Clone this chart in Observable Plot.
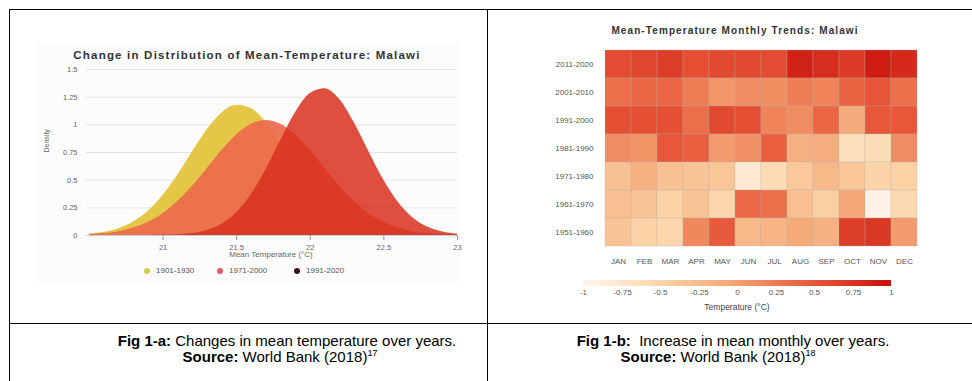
<!DOCTYPE html>
<html><head><meta charset="utf-8">
<script src="https://cdn.jsdelivr.net/npm/d3@7"></script>
<script src="https://cdn.jsdelivr.net/npm/@observablehq/plot@0.6"></script>
<style>
html,body{margin:0;padding:0;background:#fff;}
body{width:972px;height:381px;position:relative;overflow:hidden;font-family:"Liberation Sans",Arial,sans-serif;}
.ln{position:absolute;background:#000;}
.txt{position:absolute;white-space:pre;line-height:1;}
.c{transform:translateX(-50%);text-align:center;}
.cap{font-size:15px;color:#000;}
.dot{position:absolute;width:6px;height:6px;border-radius:3px;}
</style></head><body>
<script>
// ---------- Fig 1-a data ----------
const periods = ["1901-1930", "1971-2000", "1991-2020"];
const temps = [20.5,20.6,20.7,20.8,20.9,21.0,21.1,21.2,21.3,21.4,21.5,21.6,21.7,21.8,21.9,22.0,22.1,22.2,22.3,22.4,22.5,22.6,22.7,22.8,22.9,23.0];
const density1901 = [0.012,0.029,0.062,0.122,0.219,0.362,0.545,0.754,0.955,1.108,1.178,1.147,1.024,0.837,0.627,0.431,0.271,0.156,0.082,0.040,0.018,0.007,0.003,0.001,0,0];
const density1971 = [0.008,0.017,0.035,0.067,0.119,0.197,0.307,0.445,0.604,0.767,0.908,1.005,1.04,1.005,0.908,0.767,0.604,0.445,0.307,0.197,0.119,0.067,0.035,0.017,0.008,0.003];
const density1991 = [0,0,0,0,0.001,0.002,0.006,0.018,0.045,0.102,0.205,0.370,0.596,0.860,1.111,1.284,1.327,1.228,1.016,0.753,0.499,0.296,0.157,0.075,0.032,0.012];
const xTicks = [21, 21.5, 22, 22.5, 23];
const yTicks = [0, 0.25, 0.5, 0.75, 1, 1.25, 1.5];
const fillColors = ["#e3c43c", "#ec6a4c", "#d8301f"];
const legendColors = ["#cdd046", "#e0566a", "#3a1616"];

// ---------- Fig 1-b data ----------
const months = ["JAN","FEB","MAR","APR","MAY","JUN","JUL","AUG","SEP","OCT","NOV","DEC"];
const decades = ["2011-2020","2001-2010","1991-2000","1981-1990","1971-1980","1961-1970","1951-1960"];
const row2011 = [0.58,0.63,0.68,0.55,0.6,0.6,0.58,0.88,0.8,0.7,0.92,0.83];
const row2001 = [0.35,0.4,0.4,0.25,0.08,0.15,0.13,0.25,0.2,0.42,0.52,0.35];
const row1991 = [0.55,0.55,0.55,0.35,0.6,0.55,0.2,0.15,0.4,-0.1,0.5,0.5];
const row1981 = [0.15,0.1,0.5,0.45,0.05,0.12,0.45,-0.15,-0.12,-0.65,-0.6,0.15];
const row1971 = [-0.3,-0.15,-0.3,-0.32,-0.35,-0.8,-0.6,-0.38,-0.22,-0.35,-0.5,-0.48];
const row1961 = [-0.28,-0.32,-0.48,-0.32,-0.52,0.38,0.35,-0.28,-0.45,-0.05,-0.95,-0.55];
const row1951 = [-0.32,-0.48,-0.52,0.18,0.48,-0.22,-0.18,-0.08,-0.15,0.68,0.72,0.05];
const rowValues = [row2011,row2001,row1991,row1981,row1971,row1961,row1951];
const colorTicks = [-1,-0.75,-0.5,-0.25,0,0.25,0.5,0.75,1];
const colorDomain = [-1,-0.5,0,0.5,1];
const colorRange = ["#fff6ec","#fbd5a9","#f4a271","#e8573a","#c9110b"];

// ---------- helpers ----------
function add(tag, cls, css, text){
  const el = document.createElement(tag);
  if (cls) el.className = cls;
  Object.assign(el.style, css);
  if (text != null) el.textContent = text;
  document.body.appendChild(el);
  return el;
}
const fmt = d => String(d);
// table borders
add("div","ln",{left:"9px",top:"9px",width:"963px",height:"1px"});
add("div","ln",{left:"9px",top:"9px",width:"1px",height:"372px"});
add("div","ln",{left:"487px",top:"9px",width:"1px",height:"372px"});
add("div","ln",{left:"9px",top:"323px",width:"963px",height:"1px"});

// ---------- left chart ----------
add("div",null,{position:"absolute",left:"37px",top:"43px",width:"423px",height:"240px",background:"#fcfcfc"});
const rows = (vals) => temps.map((t,i) => ({t, d: vals[i]}));
const left = Plot.plot({
  width: 440, height: 250,
  marginLeft: 56, marginRight: 13, marginTop: 29, marginBottom: 55,
  style: {fontFamily: "'Liberation Sans', Arial, sans-serif", fontSize: "7.5px", color: "#666", background: "transparent"},
  x: {domain: [20.48, 23]},
  y: {domain: [0, 1.5]},
  marks: [
    Plot.gridY(yTicks, {stroke: "#e4e4e4", strokeOpacity: 1}),
    Plot.areaY(rows(density1901), {x: "t", y: "d", fill: fillColors[0], fillOpacity: 0.95, curve: "monotone-x"}),
    Plot.areaY(rows(density1971), {x: "t", y: "d", fill: fillColors[1], fillOpacity: 0.92, curve: "monotone-x"}),
    Plot.areaY(rows(density1991), {x: "t", y: "d", fill: fillColors[2], fillOpacity: 0.85, curve: "monotone-x"}),
    Plot.ruleY([0], {stroke: "#c8cfdc"}),
    Plot.axisX(xTicks, {tickSize: 5, tickPadding: 4, label: null, stroke: "#999", tickFormat: fmt}),
    Plot.axisY(yTicks, {tickSize: 0, tickPadding: 9, label: null, tickFormat: fmt}),
    Plot.text(["Density"], {frameAnchor: "left", dx: -40, rotate: -90, fontSize: 7, fill: "#666"})
  ]
});
left.style.position = "absolute"; left.style.left = "30px"; left.style.top = "40px";
document.body.appendChild(left);
add("div","txt c",{left:"247px",top:"50px",fontSize:"11.5px",fontWeight:"bold",color:"#333",letterSpacing:"1.2px"},"Change in Distribution of Mean-Temperature: Malawi");
add("div","txt c",{left:"271px",top:"251px",fontSize:"8px",color:"#666"},"Mean Temperature (°C)");
const legX = [147, 220, 297];
periods.forEach((p,i) => {
  add("div","dot",{left:(legX[i]-3)+"px",top:"268px",background:legendColors[i]});
  add("div","txt",{left:(legX[i]+9)+"px",top:"267px",fontSize:"8px",color:"#555"},p);
});

// ---------- right chart ----------
const cells = [];
decades.forEach((dec,r) => months.forEach((m,c) => cells.push({month: m, decade: dec, value: rowValues[r][c]})));
const heat = Plot.plot({
  width: 440, height: 240,
  marginLeft: 103, marginRight: 21, marginTop: 8, marginBottom: 33,
  style: {fontFamily: "'Liberation Sans', Arial, sans-serif", fontSize: "8px", color: "#555", background: "transparent"},
  x: {type: "band", domain: months, padding: 0},
  y: {type: "band", domain: decades, padding: 0},
  color: {type: "linear", domain: colorDomain, range: colorRange},
  marks: [
    Plot.cell(cells, {x: "month", y: "decade", fill: "value", stroke: "#b9aea6", strokeWidth: 0.5, strokeOpacity: 0.6}),
    Plot.axisX({anchor: "bottom", tickSize: 0, tickPadding: 11, label: null}),
    Plot.axisY({tickSize: 0, tickPadding: 10, label: null})
  ]
});
heat.style.position = "absolute"; heat.style.left = "500px"; heat.style.top = "40px";
document.body.appendChild(heat);
add("div","txt c",{left:"735px",top:"26px",fontSize:"10px",fontWeight:"bold",color:"#333",letterSpacing:"1.1px"},"Mean-Temperature Monthly Trends: Malawi");

const ramp = heat.legend("color", {
  width: 328, height: 22, marginLeft: 10, marginRight: 10, marginTop: 0, marginBottom: 16,
  ticks: colorTicks, tickSize: 0, tickFormat: fmt, label: null,
  style: {fontFamily: "'Liberation Sans', Arial, sans-serif", fontSize: "8px", color: "#555", background: "transparent"}
});
ramp.querySelectorAll(".tick line").forEach(l => l.remove());
ramp.style.position = "absolute"; ramp.style.left = "573px"; ramp.style.top = "280px";
document.body.appendChild(ramp);
add("div","txt c",{left:"737px",top:"303px",fontSize:"8.5px",color:"#444"},"Temperature (°C)");

// ---------- captions ----------
function caption(x, y, boldPart, rest, sup){
  const el = add("div","txt c cap",{left:x+"px",top:y+"px"});
  const b = document.createElement("b"); b.textContent = boldPart; el.appendChild(b);
  el.appendChild(document.createTextNode(rest));
  if (sup) { const s = document.createElement("sup"); s.textContent = sup; s.style.fontSize = "9px"; s.style.verticalAlign = "6px"; el.appendChild(s); }
}
caption(287, 333, "Fig 1-a:", " Changes in mean temperature over years.");
caption(280, 349, "Source:", " World Bank (2018)", "17");
caption(733, 333, "Fig 1-b:", "  Increase in mean monthly over years.");
caption(718, 349, "Source:", " World Bank (2018)", "18");
</script>
</body></html>
